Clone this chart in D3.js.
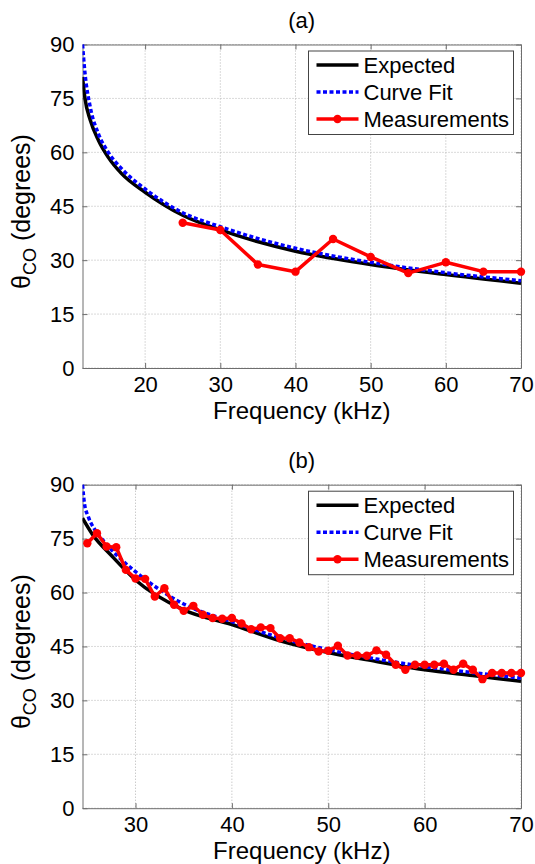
<!DOCTYPE html>
<html>
<head>
	<meta charset="utf-8">
	<title></title>
	<script src="https://cdn.jsdelivr.net/npm/d3@7/dist/d3.min.js"></script>
	<style type="text/css">
		body{
			margin: 0;
			padding: 0;
			background: #fff;
		}
		svg{
			display: block;
			font-family: "Liberation Sans", Arial, Helvetica, sans-serif;
		}
	</style>
</head>
<body>
	<svg id="svg" width="535" height="864" xmlns="http://www.w3.org/2000/svg"></svg>
</body>
	<script type="text/javascript">
		// shared
		let seriesNames = ['Expected','Curve Fit','Measurements'];
		let yTicks = [0,15,30,45,60,75,90];

		// panel (a)
		let xTicksA = [20,30,40,50,60,70];
		let curveFreqA = [11.67,12.0,12.7,13.8,15.1,16.9,20,25,30,40,50,60,70];
		let expectedA = [81,75,69,63.3,58.6,54,48.9,42.5,38.4,32.5,28.8,26,23.6];
		let fitA = [90,82,72.6,65.1,60,55.4,49.8,43.2,39.3,33.3,29.4,26.5,24.3];
		let measFreqA = [25,30,35,40,45,50,55,60,65,70];
		let measA = [40.4,38.4,28.8,26.8,35.9,30.9,26.4,29.4,26.8,26.8];

		// panel (b)
		let xTicksB = [30,40,50,60,70];
		let expFreqB = [24.5,25.5,27.5,30,35,40,45,50,55,60,65,70];
		let expectedB = [80.7,76.3,70.3,63.5,55.2,51.1,46.6,43.3,40.8,38.5,36.9,35.3];
		let fitFreqB = [24.5,24.7,25.1,25.8,26.9,28,30,35,40,45,50,55,60,65,70];
		let fitB = [90,84.8,81.1,77.4,73.7,70.5,65.8,56.8,51.9,47.4,44.1,41.5,39.4,37.7,36.2];
		let measFreqB = [25,26,27,28,29,30,31,32,33,34,35,36,37,38,39,40,41,42,43,44,45,46,47,48,49,50,51,52,53,54,55,56,57,58,59,60,61,62,63,64,65,66,67,68,69,70];
		let measB = [73.7,76.5,72.8,72.6,66.3,63.9,63.8,58.9,61.2,56.6,54.9,56.3,53.8,52.9,52.7,52.9,51.4,49.8,50.3,50.1,47.3,47.3,46.1,44.8,43.6,43.8,45.2,42.5,42.5,42.4,43.9,42.7,39.9,38.5,39.9,39.9,39.9,40.2,38.5,40.2,38.5,35.9,37.6,37.6,37.6,37.6];

		function zip(xs,ys){
			return xs.map((x,i)=>[x,ys[i]]);
		}

		drawPanel({
			id:'a',
			title:'(a)',
			top:44.5,
			xDomain:[11.67,70],
			xTicks:xTicksA,
			expected:zip(curveFreqA,expectedA),
			fit:zip(curveFreqA,fitA),
			meas:zip(measFreqA,measA)
		});

		drawPanel({
			id:'b',
			title:'(b)',
			top:484.7,
			xDomain:[24.5,70],
			xTicks:xTicksB,
			expected:zip(expFreqB,expectedB),
			fit:zip(fitFreqB,fitB),
			meas:zip(measFreqB,measB)
		});

		function drawPanel({id,title,top,xDomain,xTicks,expected,fit,meas}){
			let svg = d3.select('#svg');
			let left = 82.5, right = 521, height = 323.5;
			let bottom = top+height;

			let x = d3.scaleLinear().domain(xDomain).range([left,right]);
			let y = d3.scaleLinear().domain([0,90]).range([bottom,top]);

			let g = svg.append('g').attr('class','panel-'+id);

			// grid
			let grid = g.append('g')
				.style('stroke','#b4b4b4')
				.style('stroke-width',1)
				.style('stroke-dasharray','1,2');
			xTicks.forEach(function(t){
				grid.append('line')
					.attr('x1',x(t)).attr('x2',x(t))
					.attr('y1',top).attr('y2',bottom);
			});
			yTicks.forEach(function(t){
				grid.append('line')
					.attr('x1',left).attr('x2',right)
					.attr('y1',y(t)).attr('y2',y(t));
			});

			// axes (matlab style, ticks inside, box)
			let axB = g.append('g').attr('transform','translate(0,'+bottom+')')
				.call(d3.axisBottom(x).tickValues(xTicks).tickSizeInner(-5).tickSizeOuter(0).tickPadding(9));
			let axT = g.append('g').attr('transform','translate(0,'+top+')')
				.call(d3.axisTop(x).tickValues(xTicks).tickSizeInner(-5).tickSizeOuter(0).tickFormat(''));
			let axL = g.append('g').attr('transform','translate('+left+',0)')
				.call(d3.axisLeft(y).tickValues(yTicks).tickSizeInner(-5).tickSizeOuter(0).tickPadding(8));
			let axR = g.append('g').attr('transform','translate('+right+',0)')
				.call(d3.axisRight(y).tickValues(yTicks).tickSizeInner(-5).tickSizeOuter(0).tickFormat(''));
			[axB,axT,axL,axR].forEach(function(ax){
				ax.select('.domain').style('stroke','#6e6e6e');
				ax.selectAll('.tick line').style('stroke','#6e6e6e');
				ax.selectAll('text')
					.style('font-family','"Liberation Sans", Arial, sans-serif')
					.style('font-size','22px')
					.style('fill','#000');
			});
			axB.selectAll('text').attr('dy','0.68em');

			// clip
			g.append('clipPath').attr('id','clip-'+id)
				.append('rect').attr('x',left).attr('y',top-2).attr('width',right-left+2).attr('height',height+2);

			let line = d3.line()
				.x(d=>x(d[0]))
				.y(d=>y(d[1]))
				.curve(d3.curveMonotoneX);

			let plot = g.append('g').attr('clip-path','url(#clip-'+id+')');

			plot.append('path')
				.datum(expected)
				.attr('d',line)
				.style('fill','none')
				.style('stroke','#000')
				.style('stroke-width',3.5);

			plot.append('path')
				.datum(fit)
				.attr('d',line)
				.style('fill','none')
				.style('stroke','#0000ff')
				.style('stroke-width',3.5)
				.style('stroke-dasharray','4,2.5');

			let measLine = d3.line().x(d=>x(d[0])).y(d=>y(d[1]));
			g.append('path')
				.datum(meas)
				.attr('d',measLine)
				.style('fill','none')
				.style('stroke','#ff0000')
				.style('stroke-width',3.5)
				.style('stroke-linejoin','round');
			g.selectAll('.pt-'+id)
				.data(meas)
				.enter()
				.append('circle')
				.attr('class','pt-'+id)
				.attr('cx',d=>x(d[0]))
				.attr('cy',d=>y(d[1]))
				.attr('r',4.2)
				.style('fill','#ff0000');

			// title
			g.append('text')
				.attr('x',(left+right)/2)
				.attr('y',top-17)
				.style('text-anchor','middle')
				.style('font-size','22px')
				.text(title);

			// x label
			g.append('text')
				.attr('x',(left+right)/2)
				.attr('y',bottom+51)
				.style('text-anchor','middle')
				.style('font-size','24px')
				.text('Frequency (kHz)');

			// y label
			let yl = g.append('text')
				.attr('transform','translate(30,'+(top+167)+') rotate(-90)')
				.style('text-anchor','middle')
				.style('font-size','25px');
			yl.append('tspan').text('θ');
			yl.append('tspan').attr('dy',6).style('font-size','18px').text('CO');
			yl.append('tspan').attr('dy',-6).text(' (degrees)');

			// legend
			let lx = 308.5, ly = top+6.5;
			let legend = g.append('g');
			legend.append('rect')
				.attr('x',lx).attr('y',ly)
				.attr('width',205).attr('height',83.5)
				.style('fill','#fff')
				.style('stroke','#444')
				.style('stroke-width',1);
			let styles = [
				{stroke:'#000',dash:null,marker:false},
				{stroke:'#0000ff',dash:'4,2.5',marker:false},
				{stroke:'#ff0000',dash:null,marker:true}
			];
			seriesNames.forEach(function(name,i){
				let cy = ly+14+i*27;
				legend.append('line')
					.attr('x1',lx+8).attr('x2',lx+50)
					.attr('y1',cy).attr('y2',cy)
					.style('stroke',styles[i].stroke)
					.style('stroke-width',3.5)
					.style('stroke-dasharray',styles[i].dash);
				if(styles[i].marker){
					legend.append('circle')
						.attr('cx',lx+29).attr('cy',cy).attr('r',4.2)
						.style('fill','#ff0000');
				}
				legend.append('text')
					.attr('x',lx+55)
					.attr('y',cy+8)
					.style('font-size','22px')
					.text(name);
			});
		}
	</script>
</html>
